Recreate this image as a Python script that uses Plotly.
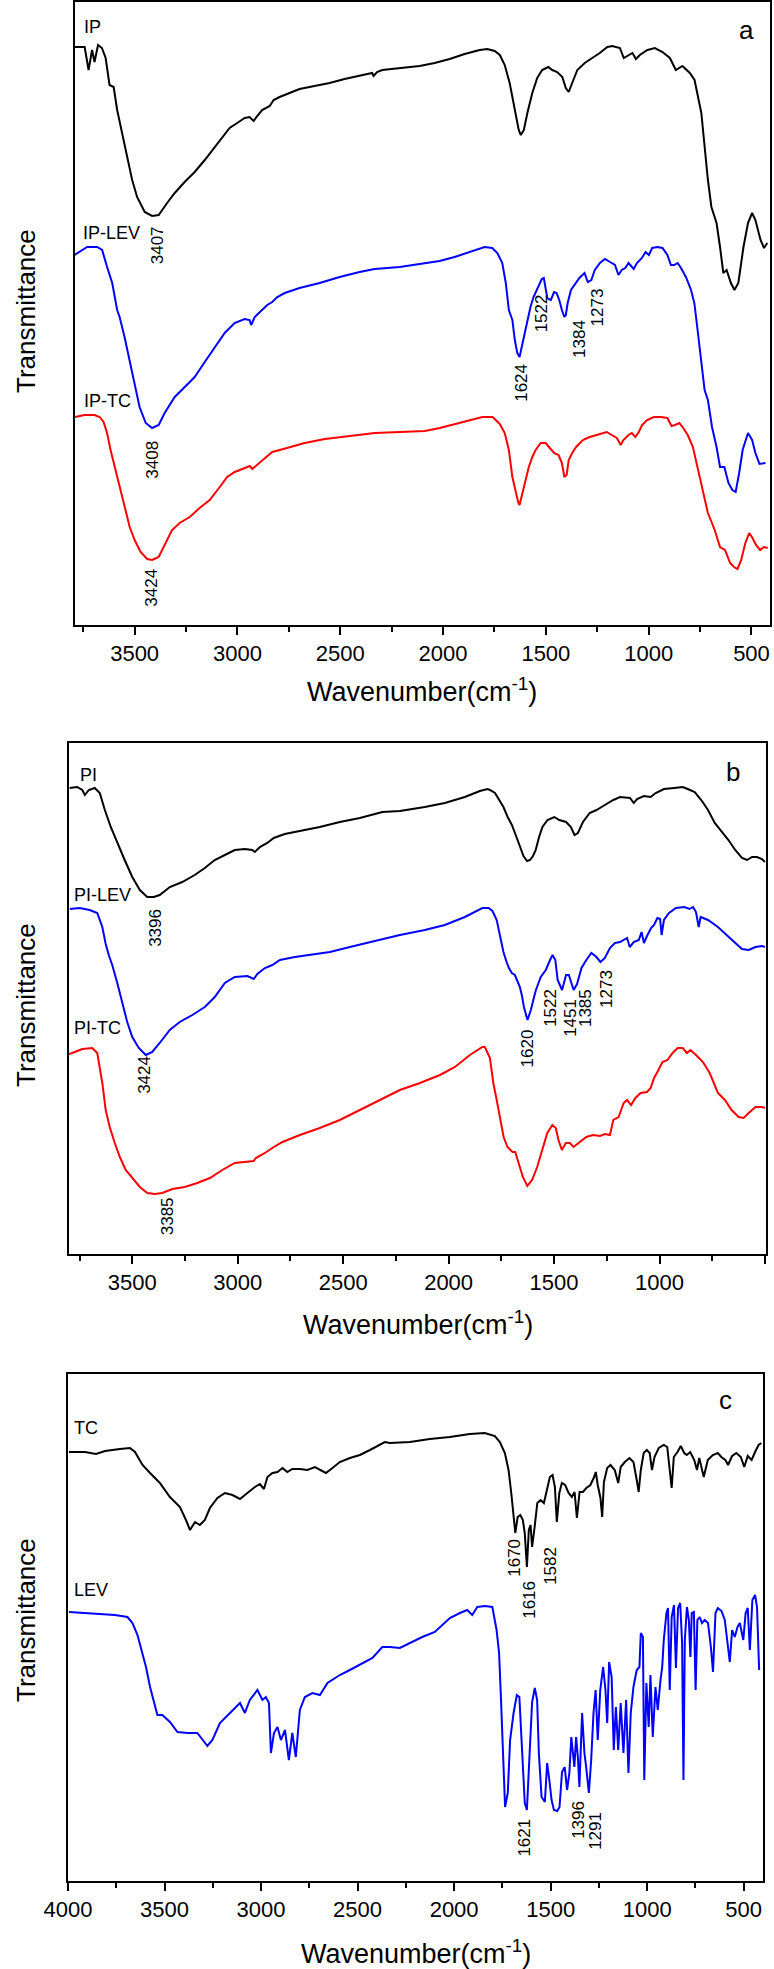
import plotly.graph_objects as go

W, H = 774, 1969
FONT = "Liberation Sans, Arial, sans-serif"

# ---------------- Panel a (IP series) ----------------
IP_WN = [3792,3743,3724,3707,3695,3678,3659,3641,3622,3602,3585,3561,3537,3512,3488,3451,3415,3383,3342,3305,3257,3208,3159,3111,3074,3038,3001,2965,2941,2921,2904,2880,2843,2824,2795,2746,2698,2625,2552,2479,2406,2345,2338,2321,2296,2211,2114,2041,1968,1895,1822,1785,1749,1724,1700,1676,1651,1632,1622,1607,1590,1566,1542,1518,1488,1469,1445,1420,1403,1389,1372,1347,1311,1274,1238,1201,1177,1140,1121,1096,1079,1062,1043,1006,970,933,897,868,836,800,777,744,728,712,695,670,653,637,621,600,583,564,539,517,497,481,456,439,423]
IP_T = [578,578,555,575,563,580,577,567,540,538,515,492,468,445,428,413,409,410,422,432,443,453,465,478,488,497,502,507,508,504,509,515,519,525,528,532,536,539,542,546,549,552,549,553,555,557,559,562,566,571,575,576,574,570,560,542,515,495,490,495,512,532,547,555,558,555,553,548,537,533,542,555,562,567,572,578,579,577,567,570,572,566,570,575,577,573,567,555,559,552,545,512,478,445,418,402,378,352,355,342,335,342,378,402,412,405,385,377,382]

IPLEV_WN = [3792,3731,3682,3658,3634,3609,3585,3573,3549,3524,3500,3476,3446,3415,3383,3354,3305,3257,3208,3159,3111,3062,3014,2965,2941,2933,2916,2892,2855,2831,2806,2770,2698,2600,2503,2406,2333,2211,2065,2017,1944,1871,1798,1761,1736,1712,1695,1680,1663,1651,1639,1628,1615,1607,1590,1575,1560,1545,1530,1520,1510,1501,1493,1476,1460,1448,1435,1422,1410,1403,1394,1378,1361,1337,1312,1296,1279,1262,1237,1213,1188,1164,1147,1131,1114,1098,1073,1057,1033,1015,999,983,958,933,909,892,876,859,843,819,794,778,765,750,735,728,712,692,670,653,632,612,593,577,560,543,517,497,481,461,432]
IPLEV_T = [370,378,378,375,358,342,315,308,288,265,242,218,202,197,200,212,228,238,248,263,278,292,302,306,305,300,308,313,320,323,328,332,337,342,348,353,356,358,362,364,368,373,378,377,372,362,342,315,305,285,272,268,280,288,302,318,328,335,343,346,347,338,327,325,333,332,325,315,308,310,322,335,340,347,352,343,345,355,362,366,363,360,350,355,357,362,356,362,367,373,370,377,378,377,370,360,360,362,357,348,335,322,300,272,245,235,225,198,178,158,158,142,135,133,152,175,192,185,172,161,162]

IPTC_WN = [3792,3743,3695,3670,3651,3634,3617,3597,3573,3549,3524,3500,3471,3439,3415,3383,3354,3318,3281,3232,3184,3135,3086,3050,3013,2965,2940,2928,2904,2867,2831,2794,2746,2673,2575,2454,2332,2210,2089,2016,1943,1870,1809,1759,1724,1700,1680,1663,1646,1635,1628,1617,1599,1583,1566,1550,1525,1501,1481,1460,1438,1422,1410,1399,1389,1372,1353,1320,1287,1254,1229,1204,1180,1155,1136,1123,1098,1082,1065,1048,1032,1008,974,941,909,889,872,851,835,810,785,760,736,712,679,662,653,629,604,585,568,550,530,511,495,478,458,439,421]
IPTC_T = [208,210,210,208,203,192,175,158,138,118,98,85,73,66,65,68,80,95,102,108,117,125,138,148,153,157,159,156,160,167,173,175,178,182,186,189,192,193,194,197,201,205,208,208,201,192,175,148,132,123,120,130,143,158,168,175,182,182,177,172,170,162,148,150,165,172,178,185,188,190,192,193,190,187,180,185,190,192,188,193,200,205,208,208,207,199,200,202,198,190,178,155,132,112,95,85,78,75,62,58,56,65,82,92,87,80,75,78,77]

# ---------------- Panel b (PI series) ----------------
PI_WN = [3797,3761,3737,3725,3706,3678,3654,3630,3602,3571,3536,3500,3464,3429,3398,3370,3322,3263,3204,3156,3109,3061,3014,2966,2931,2919,2895,2860,2829,2777,2705,2611,2516,2421,2314,2231,2113,2018,1923,1852,1815,1804,1780,1760,1740,1720,1700,1680,1662,1645,1628,1614,1600,1587,1571,1555,1531,1499,1475,1443,1420,1403,1387,1363,1331,1299,1267,1219,1187,1140,1122,1106,1074,1042,1018,979,930,890,866,833,802,770,738,705,673,641,609,585,561,538,514,500]
PI_T = [466,467,464,459,464,466,461,444,427,411,394,377,364,357,357,359,367,372,379,386,394,399,404,405,404,402,407,411,416,420,423,427,432,436,442,443,447,451,457,463,465,464,461,454,447,437,429,418,407,398,393,394,398,404,417,427,434,437,434,432,427,419,421,432,441,444,448,454,457,456,451,455,458,457,461,465,466,467,465,462,454,444,431,422,414,404,396,394,397,397,395,392]

PILEV_WN = [3796,3749,3702,3666,3642,3626,3610,3595,3571,3547,3524,3500,3469,3436,3405,3370,3322,3275,3215,3156,3109,3061,3014,2954,2924,2907,2871,2836,2800,2729,2658,2563,2468,2350,2231,2113,2018,1923,1840,1810,1792,1772,1756,1740,1725,1714,1700,1686,1676,1662,1652,1643,1626,1610,1596,1586,1563,1539,1519,1507,1494,1483,1462,1443,1430,1420,1407,1391,1370,1347,1323,1299,1280,1259,1235,1211,1187,1154,1141,1122,1098,1085,1074,1057,1040,1026,1010,997,990,979,955,922,882,858,841,827,814,805,770,723,681,641,609,577,545,514,500]
PILEV_T = [345,346,344,341,327,310,298,289,271,251,232,217,206,199,202,211,224,232,239,247,257,271,277,278,275,280,286,289,294,297,299,302,307,313,319,324,329,337,346,346,343,334,316,302,292,286,281,279,274,267,258,247,234,244,256,264,277,284,294,299,294,274,264,279,279,272,264,270,286,294,301,297,292,296,306,311,312,316,307,312,314,322,311,319,326,329,336,335,319,334,341,346,347,345,347,342,327,337,334,327,319,311,305,304,307,308,307]

PITC_WN = [3800,3785,3737,3690,3666,3642,3626,3607,3583,3559,3531,3500,3464,3429,3393,3358,3310,3251,3192,3132,3073,3014,2954,2924,2914,2871,2829,2788,2705,2611,2516,2421,2326,2231,2136,2041,1970,1899,1840,1828,1804,1788,1772,1756,1739,1721,1697,1684,1667,1648,1627,1604,1580,1556,1532,1508,1492,1479,1463,1444,1425,1408,1379,1347,1315,1282,1259,1235,1219,1194,1170,1154,1135,1114,1090,1059,1042,1026,1010,986,962,938,914,890,870,853,827,794,762,723,690,658,625,601,577,545,514,500]
PITC_T = [200,201,205,206,201,171,144,127,111,97,84,76,67,61,60,61,65,67,71,76,84,91,92,93,96,101,107,112,119,126,134,144,154,164,171,179,187,199,207,207,196,171,154,137,117,107,102,102,91,77,68,74,87,104,121,129,126,114,104,111,111,107,112,117,119,118,120,119,134,137,151,154,149,156,161,162,166,176,182,192,194,201,206,206,201,204,199,192,181,161,154,144,137,136,141,147,147,146]

# ---------------- Panel c (TC, LEV) ----------------
TC_WN = [3995,3912,3855,3808,3731,3679,3653,3614,3575,3524,3472,3420,3389,3368,3342,3317,3291,3265,3226,3187,3148,3109,3071,3032,3006,2985,2967,2941,2915,2889,2864,2838,2799,2760,2721,2695,2664,2630,2592,2540,2488,2436,2385,2359,2333,2229,2126,2022,1919,1841,1789,1763,1737,1718,1704,1692,1683,1671,1657,1644,1634,1623,1613,1604,1596,1583,1569,1552,1535,1517,1504,1490,1478,1468,1455,1442,1425,1407,1390,1376,1364,1350,1333,1315,1294,1277,1266,1256,1242,1233,1224,1207,1190,1168,1150,1137,1116,1092,1071,1054,1044,1033,1018,1002,987,975,962,940,914,896,883,873,862,843,826,808,795,777,756,742,730,707,686,660,634,616,595,581,560,538,515,497,479,459,441,423,409]
TC_T = [429,429,427,430,432,433,429,416,408,398,384,374,361,351,359,356,361,373,383,388,386,382,388,394,397,392,404,408,409,413,409,412,412,411,414,411,408,413,419,423,426,431,436,439,438,439,442,444,447,448,445,439,428,411,388,364,348,364,366,361,348,314,351,356,334,354,378,381,378,393,404,406,394,359,388,398,396,388,384,389,363,389,389,393,396,403,409,396,383,364,399,413,416,411,398,414,419,423,419,401,389,411,428,431,428,411,424,433,436,434,414,393,424,429,435,428,426,429,421,411,423,404,421,426,428,424,421,416,425,428,424,414,425,421,429,436,438]

LEV_WN = [3995,3912,3834,3757,3692,3666,3640,3614,3596,3575,3555,3537,3511,3472,3433,3381,3330,3296,3278,3252,3213,3161,3109,3084,3058,3019,2993,2975,2959,2949,2933,2915,2897,2876,2856,2838,2820,2799,2773,2734,2695,2656,2592,2540,2488,2423,2372,2333,2281,2229,2165,2100,2074,2022,1970,1932,1906,1880,1841,1802,1780,1767,1757,1744,1736,1722,1710,1692,1675,1662,1649,1634,1623,1610,1596,1582,1570,1561,1547,1530,1518,1505,1495,1483,1466,1454,1441,1427,1415,1403,1393,1377,1368,1359,1351,1337,1325,1316,1302,1290,1278,1267,1256,1243,1228,1216,1207,1197,1184,1173,1162,1150,1137,1123,1109,1097,1085,1071,1054,1040,1033,1022,1015,1004,992,983,971,957,945,931,922,914,900,892,883,873,861,851,840,829,819,812,805,794,784,776,769,758,749,740,728,716,702,685,670,659,646,634,615,598,584,572,560,546,532,520,502,490,479,468,455,441,431,420]
LEV_T = [269,268,267,266,264,258,246,228,214,194,178,166,166,159,149,148,148,139,135,141,158,168,178,168,181,191,181,184,178,128,148,154,141,151,121,148,124,171,184,188,186,198,206,211,216,223,234,234,233,238,244,249,254,263,268,271,266,274,275,274,251,228,181,121,74,88,141,168,186,184,131,78,71,128,179,193,181,128,84,79,118,98,81,71,70,74,109,114,91,108,144,114,144,124,94,168,128,114,88,121,168,191,141,191,214,191,158,219,204,131,174,131,178,128,181,108,168,194,211,214,248,244,101,198,154,206,144,194,171,201,214,241,268,273,191,264,276,213,273,278,238,101,241,274,261,224,268,269,191,261,264,258,261,258,234,209,268,273,270,261,241,219,251,244,254,258,241,268,273,231,281,286,274,211]

# axis ticks
TICKS_AB = [3500, 3000, 2500, 2000, 1500, 1000, 500]
TICKS_C = [4000, 3500, 3000, 2500, 2000, 1500, 1000, 500]

# peak labels: (text, wavenumber position, height)
PEAKS_A = [("3407", 3390, 380), ("3408", 3417, 165), ("3424", 3422, 37), ("1624", 1622, 242),
           ("1522", 1522, 312), ("1384", 1339, 286), ("1273", 1249, 318)]
PEAKS_B = [("3396", 3393, 326), ("3424", 3445, 179), ("3385", 3334, 38), ("1620", 1626, 206),
           ("1522", 1520, 246), ("1451", 1425, 236), ("1385", 1353, 246), ("1273", 1254, 265)]
PEAKS_C = [("1670", 1691, 323), ("1616", 1613, 281), ("1582", 1504, 315), ("1621", 1640, 43),
           ("1396", 1359, 61), ("1291", 1271, 50)]


def px(x):
    return x / W


def py(y):
    return 1 - y / H


fig = go.Figure()

series = [
    (IP_WN, IP_T, "black", "x", "y", "IP"),
    (IPLEV_WN, IPLEV_T, "blue", "x", "y", "IP-LEV"),
    (IPTC_WN, IPTC_T, "red", "x", "y", "IP-TC"),
    (PI_WN, PI_T, "black", "x2", "y2", "PI"),
    (PILEV_WN, PILEV_T, "blue", "x2", "y2", "PI-LEV"),
    (PITC_WN, PITC_T, "red", "x2", "y2", "PI-TC"),
    (TC_WN, TC_T, "black", "x3", "y3", "TC"),
    (LEV_WN, LEV_T, "blue", "x3", "y3", "LEV"),
]
for xs, ys, col, xa, ya, name in series:
    fig.add_trace(go.Scatter(x=xs, y=ys, mode="lines", name=name, xaxis=xa, yaxis=ya,
                             line=dict(color=col, width=2), showlegend=False, hoverinfo="skip"))

panels = [
    ((75, 770), 2, 625, [3790, 410], 623, TICKS_AB),
    ((69, 766), 743, 1254, [3800, 495], 511, TICKS_AB),
    ((68, 763), 1374, 1881, [4000, 400], 507, TICKS_C),
]

layout = dict(template="none", width=W, height=H, margin=dict(l=0, r=0, t=0, b=0, autoexpand=False),
              paper_bgcolor="white", plot_bgcolor="white", showlegend=False,
              font=dict(family=FONT, color="black"))
for i, (xd, yt, yb, xr, ymax, tv) in enumerate(panels):
    sfx = "" if i == 0 else str(i + 1)
    layout["xaxis" + sfx] = dict(
        domain=[px(xd[0]), px(xd[1])], range=xr, anchor="y" + sfx, automargin=False,
        tickmode="array", tickvals=tv, ticktext=[str(t) for t in tv],
        ticks="outside", ticklen=8, tickwidth=1.5, tickcolor="black",
        minor=dict(tickmode="linear", tick0=500, dtick=250, ticks="outside", ticklen=5,
                   tickwidth=1.5, tickcolor="black", showgrid=False),
        showline=True, linecolor="black", linewidth=1.5, mirror=True,
        showgrid=False, zeroline=False,
        tickfont=dict(family=FONT, size=22, color="black"))
    layout["yaxis" + sfx] = dict(
        domain=[py(yb), py(yt)], range=[0, ymax], anchor="x" + sfx, automargin=False,
        showticklabels=False, ticks="", showline=True, linecolor="black",
        linewidth=1.5, mirror=True, showgrid=False, zeroline=False)
fig.update_layout(**layout)

ann = []
for sfx, peaks in (("", PEAKS_A), ("2", PEAKS_B), ("3", PEAKS_C)):
    for txt, xw, yh in peaks:
        ann.append(dict(text=txt, x=xw, y=yh, xref="x" + sfx, yref="y" + sfx, showarrow=False,
                        textangle=-90, xanchor="center", yanchor="middle",
                        font=dict(family=FONT, size=17, color="black")))

curve_labels = [("IP", 82, 27), ("IP-LEV", 81, 233), ("IP-TC", 82, 401),
                ("PI", 78, 775), ("PI-LEV", 72, 895), ("PI-TC", 72, 1028),
                ("TC", 72, 1428), ("LEV", 72, 1590)]
for txt, x, y in curve_labels:
    ann.append(dict(text=txt, x=px(x), y=py(y), xref="paper", yref="paper", showarrow=False,
                    xanchor="left", yanchor="middle", font=dict(family=FONT, size=18, color="black")))

for txt, x, y in (("a", 746, 30), ("b", 733, 772), ("c", 725, 1400)):
    ann.append(dict(text=txt, x=px(x), y=py(y), xref="paper", yref="paper", showarrow=False,
                    xanchor="center", yanchor="middle", font=dict(family=FONT, size=26, color="black")))

for y in (311, 1005, 1620):
    ann.append(dict(text="Transmittance", x=px(26), y=py(y), xref="paper", yref="paper",
                    showarrow=False, textangle=-90, xanchor="center", yanchor="middle",
                    font=dict(family=FONT, size=26, color="black")))

for x, y in ((422, 690), (418, 1323), (416, 1952)):
    ann.append(dict(text="Wavenumber(cm<sup>-1</sup>)", x=px(x), y=py(y), xref="paper", yref="paper",
                    showarrow=False, xanchor="center", yanchor="middle",
                    font=dict(family=FONT, size=27, color="black")))

fig.update_layout(annotations=ann)
fig.write_html("out.html", config={"displayModeBar": False},
               post_script="document.body.style.margin='0';document.body.style.overflow='hidden';")
